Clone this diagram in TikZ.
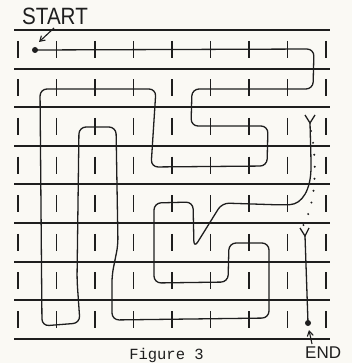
\documentclass[tikz,border=0pt]{standalone}
\usepackage{fontspec}
\setmainfont{Liberation Sans}
\newfontfamily\figfont{Liberation Mono}
\usetikzlibrary{arrows.meta}
\definecolor{paper}{RGB}{250,249,244}
\definecolor{ink}{RGB}{30,30,30}
\begin{document}
\begin{tikzpicture}[x=1pt,y=-1pt,
  gridline/.style={draw=ink,line width=2pt},
  tickmark/.style={draw=ink,line width=1.4pt},
  route/.style={draw=ink,line width=1.3pt,rounded corners=7pt,line join=round},
  hand/.style={inner sep=0pt,text=ink},
  dotmark/.style={circle,fill=ink,inner sep=0pt,minimum size=6pt},
  barb/.style={-{Straight Barb[length=5pt,width=6pt]},draw=ink,line width=1.1pt}]
\fill[paper] (0,0) rectangle (352,363);
\useasboundingbox (0,0) rectangle (352,363);
% grid lines
\foreach \i in {0,...,8}{
  \path[gridline] (14,30+38.6*\i) -- (330,30+38.6*\i);
}
% ticks
\foreach \r in {0,...,7}{
  \foreach \c in {0,...,8}{
    \path[tickmark] (18+38.5*\c,49.3+38.6*\r-8.5) -- (18+38.5*\c,49.3+38.6*\r+8.5);
  }
}
% start and end dots
\node[dotmark] (startdot) at (35,50) {};
\node[dotmark] (enddot) at (308,323) {};
% main route
\path[route] (startdot.center) -- (314,49) -- (313,89) -- (192,89) -- (191,126)
  -- (268,126) -- (267,166) -- (151,167) -- (156,89) -- (40,89)
  -- (42,326) -- (80,323) -- (77,280) -- (79,127) -- (116,127)
  -- (118,245) -- (112,275) -- (112,320) -- (269,318) -- (269,243)
  -- (229,243) -- (228,282) -- (154,283) -- (154,203) -- (193,202)
  -- (194,248) -- (222,203) -- (283,205)
  .. controls (302,204) and (311,190) .. (311,160) -- (310,123) coordinate (yone);
% upper Y
\path[draw=ink,line width=1.3pt] (305,115) -- (yone) -- (315,115);
% dotted trail
\path[draw=ink,line width=2.2pt,line cap=round,dash pattern=on 0pt off 12pt]
  (311,131) .. controls (317,160) and (317,200) .. (303,226);
% lower Y and stem to end
\coordinate (ytwo) at (305,236);
\path[draw=ink,line width=1.3pt] (300,228) -- (ytwo) -- (309,228);
\path[draw=ink,line width=1.3pt] (ytwo) -- (enddot.center);
% labels
\node[hand,anchor=base west,font=\fontsize{20pt}{20pt}\selectfont,xscale=1.03,yscale=1.18] (startlbl) at (22,25) {START};
\coordinate (starttail) at (54,28);
\path[barb] (starttail) -- (39,42);
\node[hand,anchor=base west,font=\fontsize{17pt}{17pt}\selectfont] (endlbl) at (305,358.5) {END};
\coordinate (endtail) at (312,344);
\path[barb] (endtail) -- (309,330);
\node[hand,anchor=base,font=\figfont\fontsize{15.5pt}{15.5pt}\selectfont] (caption) at (166.5,359) {Figure 3};
\end{tikzpicture}
\end{document}
